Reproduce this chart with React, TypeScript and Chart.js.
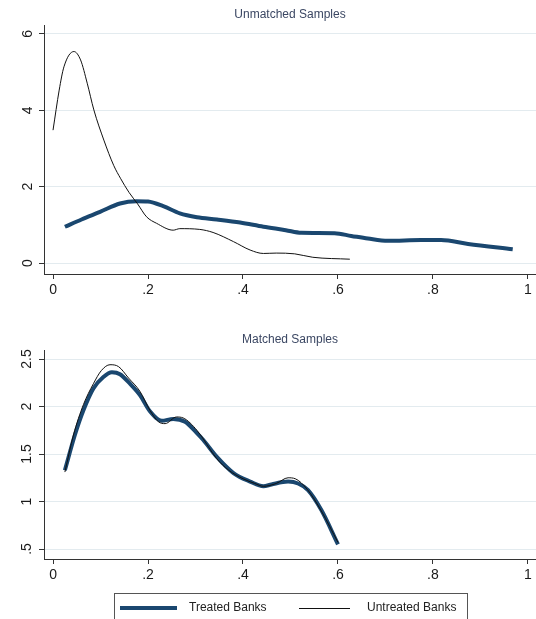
import React, { useEffect, useRef } from 'react';
import { Chart, registerables } from 'chart.js';

Chart.register(...registerables);

const FONT = "'Liberation Sans', Arial, Helvetica, sans-serif";
const NAVY = '#1a476f';

const seriesNames = ['Treated Banks', 'Untreated Banks'];
const panelTitles = ['Unmatched Samples', 'Matched Samples'];

const xTickValues = [0, 0.2, 0.4, 0.6, 0.8, 1];
const xTickLabels = ['0', '.2', '.4', '.6', '.8', '1'];
const topYTickValues = [0, 2, 4, 6];
const topYTickLabels = ['0', '2', '4', '6'];
const bottomYTickValues = [0.5, 1, 1.5, 2, 2.5];
const bottomYTickLabels = ['.5', '1', '1.5', '2', '2.5'];

// Unmatched samples
const unmatchedTreatedX = [0.025, 0.06, 0.099, 0.141, 0.176, 0.2, 0.232, 0.267, 0.303, 0.345, 0.394, 0.443, 0.49, 0.523, 0.593, 0.628, 0.663, 0.705, 0.775, 0.817, 0.874, 0.968];
const unmatchedTreatedY = [0.95, 1.14, 1.34, 1.56, 1.62, 1.61, 1.49, 1.3, 1.2, 1.14, 1.06, 0.95, 0.86, 0.79, 0.78, 0.71, 0.64, 0.58, 0.6, 0.6, 0.5, 0.36];
const unmatchedUntreatedX = [0, 0.013, 0.023, 0.044, 0.058, 0.072, 0.086, 0.107, 0.128, 0.142, 0.16, 0.178, 0.197, 0.218, 0.253, 0.267, 0.309, 0.337, 0.38, 0.415, 0.443, 0.47, 0.509, 0.547, 0.625];
const unmatchedUntreatedY = [3.48, 4.53, 5.14, 5.54, 5.32, 4.71, 4.01, 3.22, 2.55, 2.22, 1.85, 1.55, 1.21, 1.04, 0.86, 0.9, 0.88, 0.8, 0.56, 0.34, 0.25, 0.26, 0.24, 0.15, 0.1];

// Matched samples
const matchedTreatedX = [0.025, 0.046, 0.064, 0.085, 0.106, 0.124, 0.141, 0.162, 0.183, 0.204, 0.229, 0.253, 0.278, 0.303, 0.316, 0.345, 0.38, 0.415, 0.443, 0.46, 0.495, 0.516, 0.537, 0.565, 0.6];
const matchedTreatedY = [1.33, 1.7, 1.96, 2.19, 2.31, 2.36, 2.34, 2.24, 2.12, 1.95, 1.85, 1.87, 1.84, 1.72, 1.65, 1.47, 1.3, 1.21, 1.16, 1.18, 1.21, 1.19, 1.12, 0.91, 0.55];
const matchedUntreatedX = [0.025, 0.043, 0.064, 0.085, 0.102, 0.12, 0.138, 0.159, 0.183, 0.204, 0.222, 0.236, 0.26, 0.274, 0.303, 0.345, 0.37, 0.4, 0.425, 0.443, 0.47, 0.495, 0.51, 0.535, 0.565, 0.6];
const matchedUntreatedY = [1.31, 1.7, 2.02, 2.24, 2.38, 2.44, 2.42, 2.3, 2.16, 1.96, 1.84, 1.82, 1.89, 1.88, 1.75, 1.45, 1.33, 1.24, 1.19, 1.16, 1.19, 1.25, 1.24, 1.13, 0.9, 0.57];

const pts = (xs: number[], ys: number[]) => xs.map((x, i) => ({ x, y: ys[i] }));

const legendPlugin = {
  id: 'stataLegend',
  afterDraw(chart: any) {
    const ctx = chart.ctx as CanvasRenderingContext2D;
    const dss = chart.data.datasets as any[];
    const treated = dss.find((d) => d.label === seriesNames[0]);
    const untreated = dss.find((d) => d.label === seriesNames[1]);
    const top = 288;
    const midY = 303;
    ctx.save();
    ctx.strokeStyle = '#555';
    ctx.lineWidth = 1;
    ctx.strokeRect(114.5, top + 0.5, 353, 40);
    const items = [
      { ds: treated, x0: 120, x1: 177, tx: 189 },
      { ds: untreated, x0: 299, x1: 350, tx: 367 },
    ];
    items.forEach((it) => {
      ctx.beginPath();
      ctx.strokeStyle = it.ds.borderColor;
      ctx.lineWidth = it.ds.borderWidth;
      const yy = it.ds.borderWidth % 2 === 1 ? midY + 0.5 : midY;
      ctx.moveTo(it.x0, yy);
      ctx.lineTo(it.x1, yy);
      ctx.stroke();
      ctx.fillStyle = '#222';
      ctx.font = `12px ${FONT}`;
      ctx.textAlign = 'left';
      ctx.textBaseline = 'middle';
      ctx.fillText(it.ds.label, it.tx, midY);
    });
    ctx.restore();
  },
};

function makeConfig(opts: {
  title: string;
  tX: number[]; tY: number[]; uX: number[]; uY: number[];
  yTicks: number[]; yLabels: string[];
  yMin: number; yMax: number;
  titlePadTop: number; titlePadBottom: number;
  bottomPad: number; yLabelPad: number;
  legend: boolean;
}): any {
  return {
    type: 'line',
    data: {
      datasets: [
        {
          label: seriesNames[1],
          data: pts(opts.uX, opts.uY),
          borderColor: '#111111',
          borderWidth: 1,
          pointRadius: 0,
          fill: false,
          cubicInterpolationMode: 'monotone',
          order: 0,
        },
        {
          label: seriesNames[0],
          data: pts(opts.tX, opts.tY),
          borderColor: NAVY,
          borderWidth: 4,
          pointRadius: 0,
          fill: false,
          cubicInterpolationMode: 'monotone',
          order: 1,
        },
      ],
    },
    options: {
      responsive: false,
      animation: false,
      devicePixelRatio: 1,
      layout: { padding: { left: 0, right: 0, top: 0, bottom: opts.bottomPad } },
      plugins: {
        legend: { display: false },
        tooltip: { enabled: false },
        title: {
          display: true,
          text: opts.title,
          fullSize: false,
          color: '#3b4763',
          font: { family: FONT, size: 12, weight: 'normal' },
          padding: { top: opts.titlePadTop, bottom: opts.titlePadBottom },
        },
      },
      scales: {
        x: {
          type: 'linear',
          min: -0.019,
          max: 1.017,
          afterBuildTicks: (s: any) => {
            s.ticks = xTickValues.map((v) => ({ value: v }));
          },
          afterFit: (s: any) => {
            s.height = 25;
          },
          ticks: {
            autoSkip: false,
            maxRotation: 0,
            minRotation: 0,
            padding: 3,
            color: '#1a1a1a',
            font: { family: FONT, size: 14 },
            callback: (_v: any, i: number) => xTickLabels[i],
          },
          grid: { drawOnChartArea: false, drawTicks: true, tickLength: 5, tickColor: '#333' },
          border: { color: '#333', width: 1 },
        },
        y: {
          type: 'linear',
          min: opts.yMin,
          max: opts.yMax,
          afterBuildTicks: (s: any) => {
            s.ticks = opts.yTicks.map((v) => ({ value: v }));
          },
          afterFit: (s: any) => {
            s.width = 44;
          },
          ticks: {
            autoSkip: false,
            minRotation: 90,
            maxRotation: 90,
            crossAlign: 'center',
            padding: opts.yLabelPad,
            color: '#1a1a1a',
            font: { family: FONT, size: 14 },
            callback: (_v: any, i: number) => opts.yLabels[i],
          },
          grid: { drawOnChartArea: true, color: '#e3ebef', drawTicks: true, tickLength: 5, tickColor: '#333' },
          border: { color: '#333', width: 1 },
        },
      },
    },
    plugins: opts.legend ? [legendPlugin] : [],
  };
}

export default function App() {
  const topRef = useRef<HTMLCanvasElement | null>(null);
  const bottomRef = useRef<HTMLCanvasElement | null>(null);

  useEffect(() => {
    const top = new Chart(
      topRef.current as HTMLCanvasElement,
      makeConfig({
        title: panelTitles[0],
        tX: unmatchedTreatedX, tY: unmatchedTreatedY,
        uX: unmatchedUntreatedX, uY: unmatchedUntreatedY,
        yTicks: topYTickValues, yLabels: topYTickLabels,
        yMin: -0.288, yMax: 6.235,
        titlePadTop: 7.5, titlePadBottom: 3.1,
        bottomPad: 6, yLabelPad: 6.6,
        legend: false,
      })
    );
    const bottom = new Chart(
      bottomRef.current as HTMLCanvasElement,
      makeConfig({
        title: panelTitles[1],
        tX: matchedTreatedX, tY: matchedTreatedY,
        uX: matchedUntreatedX, uY: matchedUntreatedY,
        yTicks: bottomYTickValues, yLabels: bottomYTickLabels,
        yMin: 0.395, yMax: 2.595,
        titlePadTop: 27.1, titlePadBottom: 3.5,
        bottomPad: 35, yLabelPad: 1.8,
        legend: true,
      })
    );
    return () => {
      top.destroy();
      bottom.destroy();
    };
  }, []);

  return (
    <div style={{ position: 'absolute', left: 0, top: 0, width: 536, height: 619, background: '#fff', overflow: 'hidden' }}>
      <canvas ref={topRef} width={536} height={305} style={{ display: 'block' }} />
      <canvas ref={bottomRef} width={536} height={314} style={{ display: 'block' }} />
    </div>
  );
}
